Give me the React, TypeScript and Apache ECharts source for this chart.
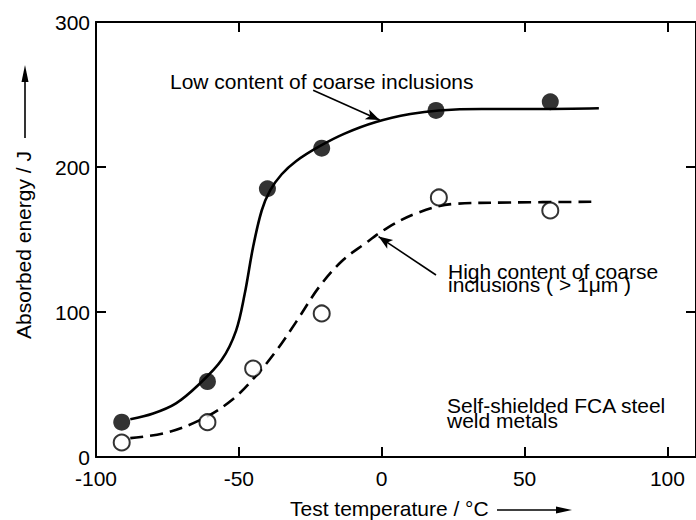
import React, { useEffect, useRef } from "react";
import * as echarts from "echarts";

// Measured points (test temperature °C, absorbed energy J)
const lowPointsT = [-91, -61, -40, -21, 19, 59];
const lowPointsE = [24, 52, 185, 213, 239, 245];
const highPointsT = [-91, -61, -45, -21, 20, 59];
const highPointsE = [10, 24, 61, 99, 179, 170];

// Fitted transition curves
const lowCurveT = [-88, -80, -72, -64, -56, -51, -48, -45, -42, -39, -35, -30, -22, -13, -2, 10, 20, 35, 55, 76];
const lowCurveE = [26, 30, 37, 50, 67, 87, 112, 145, 170, 184, 195, 204, 214, 223, 231, 236.5, 239, 240, 240, 240.5];
const highCurveT = [-88, -75, -62, -52, -44, -37, -30, -22, -14, -6, 2, 12, 25, 45, 74];
const highCurveE = [13, 17, 27, 40, 56, 73, 93, 117, 135, 147, 158, 168, 174.5, 175.5, 176];

// Leader arrows (from text to curve)
const lowArrow = [[-24, 253], [-0.7, 232.4]];
const highArrow = [[19, 125.5], [-1.1, 152]];

const xTicks = [-100, -50, 0, 50, 100];
const yTicks = [0, 100, 200, 300];

const FONT = '"Liberation Sans", Arial, Helvetica, sans-serif';
const FS = 21;

export default function App() {
  const ref = useRef<HTMLDivElement>(null);
  useEffect(() => {
    if (!ref.current) return;
    const chart = echarts.init(ref.current, undefined, { renderer: "svg" });
    const pair = (a: number[], b: number[]) => a.map((v, i) => [v, b[i]]);
    const axisLine = { show: true, onZero: false, lineStyle: { color: "#000", width: 2 } };
    const axisTick = { show: true, inside: true, length: 10, lineStyle: { color: "#000", width: 2 } };
    const xBase = {
      type: "value" as const,
      min: -100,
      max: 110,
      interval: 50,
      splitLine: { show: false },
      axisLine,
      axisTick,
    };
    const yBase = {
      type: "value" as const,
      min: 0,
      max: 300,
      interval: 100,
      splitLine: { show: false },
      axisLine,
      axisTick,
    };
    const textEl = (text: string, x: number, y: number, extra: any = {}) => ({
      type: "text",
      x,
      y,
      silent: true,
      ...extra,
      style: {
        text,
        fill: "#000",
        fontSize: FS,
        fontFamily: FONT,
        verticalAlign: "middle",
        align: "left",
        ...(extra.style || {}),
      },
    });
    chart.setOption({
      animation: false,
      backgroundColor: "#fff",
      grid: { left: 96, top: 22, width: 607, height: 435 },
      xAxis: [
        {
          ...xBase,
          position: "bottom",
          axisLabel: {
            show: true,
            color: "#000",
            fontSize: FS,
            fontFamily: FONT,
            lineHeight: 16,
            margin: 13.5,
            showMaxLabel: false,
            formatter: (v: number) => (xTicks.includes(v) ? String(v) : ""),
          },
        },
        { ...xBase, position: "top", axisLabel: { show: false } },
      ],
      yAxis: [
        {
          ...yBase,
          position: "left",
          axisLabel: {
            show: true,
            color: "#000",
            fontSize: FS,
            fontFamily: FONT,
            lineHeight: 16,
            margin: 6,
            formatter: (v: number) => (yTicks.includes(v) ? String(v) : ""),
          },
        },
        { ...yBase, position: "right", axisLabel: { show: false } },
      ],
      series: [
        {
          name: "Low content curve",
          type: "line",
          xAxisIndex: 0,
          yAxisIndex: 0,
          data: pair(lowCurveT, lowCurveE),
          smooth: 0.35,
          showSymbol: false,
          lineStyle: { color: "#000", width: 2.6, type: "solid" },
          z: 2,
          markLine: {
            silent: true,
            symbol: ["none", "arrow"],
            symbolSize: [8, 14],
            label: { show: false },
            lineStyle: { color: "#000", width: 1.6, type: "solid" },
            data: [
              [{ coord: lowArrow[0] }, { coord: lowArrow[1] }],
              [{ coord: highArrow[0] }, { coord: highArrow[1] }],
            ],
          },
        },
        {
          name: "High content curve",
          type: "line",
          data: pair(highCurveT, highCurveE),
          smooth: 0.35,
          showSymbol: false,
          lineStyle: { color: "#000", width: 2.6, type: [13, 7] },
          z: 2,
        },
        {
          name: "Low content of coarse inclusions",
          type: "scatter",
          data: pair(lowPointsT, lowPointsE),
          symbol: "circle",
          symbolSize: 17,
          itemStyle: { color: "#000" },
          z: 3,
        },
        {
          name: "High content of coarse inclusions",
          type: "scatter",
          data: pair(highPointsT, highPointsE),
          symbol: "circle",
          symbolSize: 16,
          itemStyle: { color: "#fff", borderColor: "#000", borderWidth: 2 },
          z: 3,
        },
      ],
      graphic: [
        textEl("Low content of coarse inclusions", 170, 81),
        textEl("High content of coarse\ninclusions ( > 1μm )", 448, 278, {
          style: { lineHeight: 13.5 },
        }),
        textEl("Self-shielded FCA steel\nweld metals", 447, 413, {
          style: { lineHeight: 14.5 },
        }),
        textEl("Test temperature / °C", 290, 508.5),
        textEl("Absorbed energy / J", 23.5, 245, {
          rotation: Math.PI / 2,
          style: { align: "center" },
        }),
        {
          type: "line",
          silent: true,
          shape: { x1: 497, y1: 510, x2: 560, y2: 510 },
          style: { stroke: "#000", lineWidth: 1.6 },
        },
        {
          type: "polygon",
          silent: true,
          shape: { points: [[572, 510], [556, 506.5], [556, 513.5]] },
          style: { fill: "#000" },
        },
        {
          type: "line",
          silent: true,
          shape: { x1: 25, y1: 138, x2: 25, y2: 78 },
          style: { stroke: "#000", lineWidth: 1.6 },
        },
        {
          type: "polygon",
          silent: true,
          shape: { points: [[25, 65], [21.5, 82], [28.5, 82]] },
          style: { fill: "#000" },
        },
      ],
    });
    return () => chart.dispose();
  }, []);
  return (
    <div
      ref={ref}
      style={{ position: "absolute", left: 0, top: 0, width: 696, height: 520 }}
    />
  );
}
